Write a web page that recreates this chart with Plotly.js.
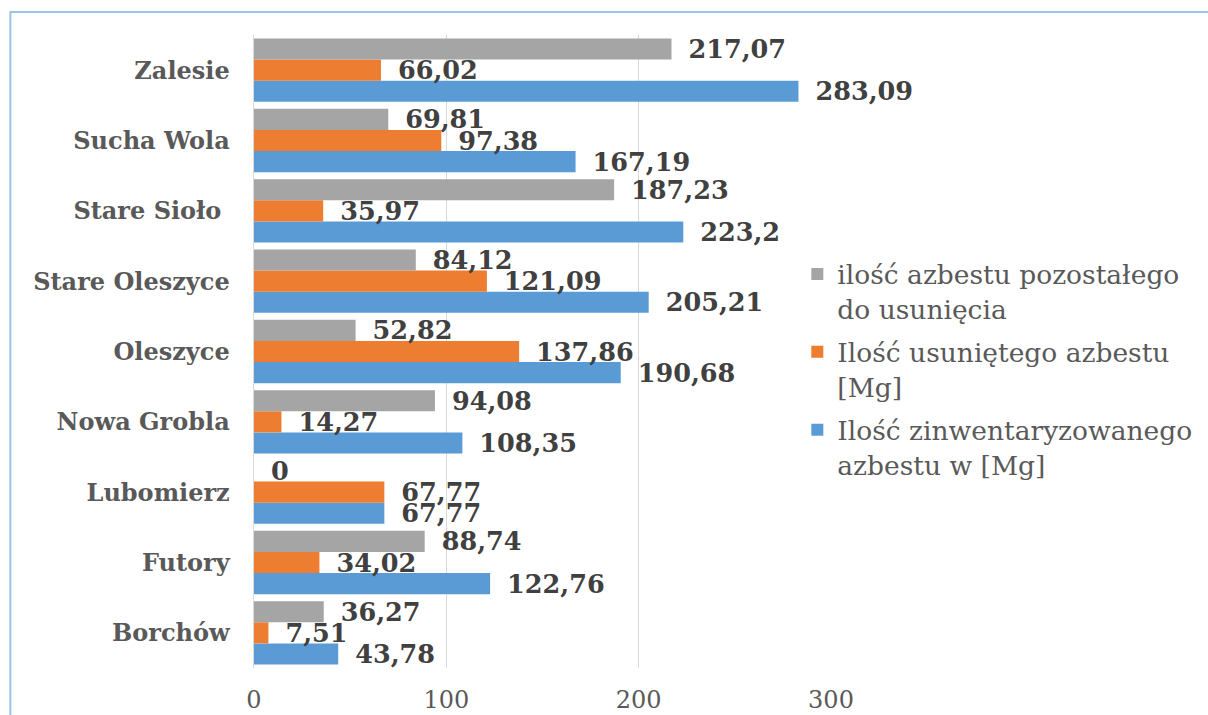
<!DOCTYPE html>
<html>
<head>
<meta charset="utf-8">
<script src="https://cdn.plot.ly/plotly-3.0.1.min.js"></script>
<style>
html,body{margin:0;padding:0;background:#fff;}
#chart{width:1208px;height:715px;}
</style>
</head>
<body>
<div id="chart"></div>
<script>
// Categories (bottom to top as drawn)
const categories = ["Borchów", "Futory", "Lubomierz", "Nowa Grobla", "Oleszyce", "Stare Oleszyce", "Stare Sioło\u00A0", "Sucha Wola", "Zalesie"];
// Series values
const pozostaly = [36.27, 88.74, 0, 94.08, 52.82, 84.12, 187.23, 69.81, 217.07];
const usuniety = [7.51, 34.02, 67.77, 14.27, 137.86, 121.09, 35.97, 97.38, 66.02];
const zinwentaryzowany = [43.78, 122.76, 67.77, 108.35, 190.68, 205.21, 223.2, 167.19, 283.09];
// Series names
const namePozostaly = "ilość azbestu pozostałego<br>do usunięcia";
const nameUsuniety = "Ilość usuniętego azbestu<br>[Mg]";
const nameZinw = "Ilość zinwentaryzowanego<br>azbestu w [Mg]";
// Tick values
const xTicks = [0, 100, 200, 300];

const fmt = v => "\u00A0\u2009" + String(v).replace(".", ",");
const labelFont = {family: "DejaVu Serif", size: 25.5, color: "#404040", weight: "bold"};

function barTrace(vals, name, color, group, rank) {
  return {
    type: "bar", orientation: "h",
    y: categories, x: vals, name: name,
    marker: {color: color},
    text: vals.map(fmt), textposition: "outside",
    textfont: labelFont, outsidetextfont: labelFont,
    constraintext: "none", cliponaxis: false,
    legendgroup: group, legendrank: rank,
    hoverinfo: "x+name"
  };
}

const data = [
  barTrace(zinwentaryzowany, nameZinw, "#5B9BD5", "c", 3),
  barTrace(usuniety, nameUsuniety, "#ED7D31", "b", 2),
  barTrace(pozostaly, namePozostaly, "#A5A5A5", "a", 1)
];

const layout = {
  width: 1208, height: 715,
  margin: {l: 254, r: 376, t: 35, b: 47},
  paper_bgcolor: "#fff", plot_bgcolor: "#fff",
  barmode: "group", bargap: 0.1, bargroupgap: 0,
  font: {family: "DejaVu Serif", color: "#595959"},
  xaxis: {
    range: [0, 300], tickvals: xTicks, ticktext: xTicks.map(String),
    showgrid: true, gridcolor: "#D9D9D9", gridwidth: 1.5,
    zeroline: false, showline: false, ticks: "",
    tickfont: {family: "DejaVu Serif", size: 24, color: "#595959"},
    ticklabelstandoff: 15, fixedrange: true
  },
  yaxis: {
    type: "category", categoryorder: "array", categoryarray: categories,
    showline: true, linecolor: "#D9D9D9", linewidth: 1.5,
    showgrid: false, zeroline: false, ticks: "",
    tickfont: {family: "DejaVu Serif", size: 24, color: "#595959", weight: "bold"},
    ticklabelstandoff: 18, fixedrange: true
  },
  showlegend: true,
  legend: {
    x: 0.94, xanchor: "left", y: 0.66, yanchor: "top",
    traceorder: "grouped", tracegroupgap: 6,
    valign: "top", itemwidth: 30,
    font: {family: "DejaVu Serif", size: 26.5, color: "#595959"},
    bgcolor: "rgba(0,0,0,0)"
  },
  shapes: [{
    type: "path", xref: "paper", yref: "paper",
    path: "M -0.4222,-0.09 L -0.4222,1.0363 L 1.67,1.0363",
    line: {color: "#9DC3E6", width: 2}
  }]
};

Plotly.newPlot("chart", data, layout, {displayModeBar: false, staticPlot: true});
</script>
</body>
</html>
